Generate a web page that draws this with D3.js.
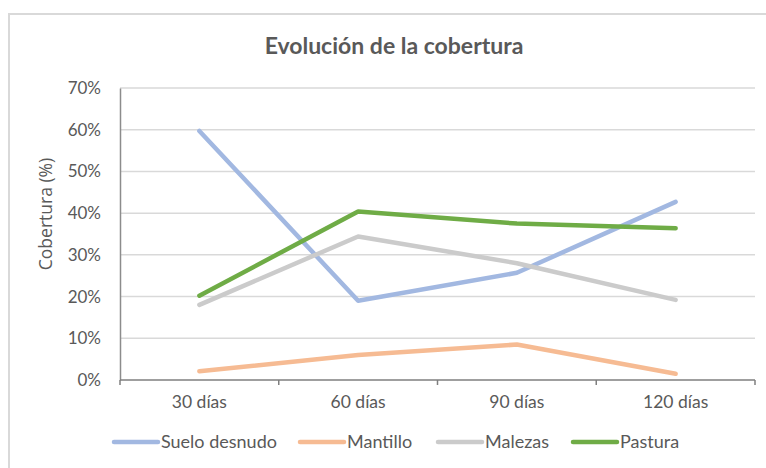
<!DOCTYPE html>
<html>
<head>
<meta charset="utf-8">
<script src="https://cdn.jsdelivr.net/npm/d3@7"></script>
<style>
  body { margin: 0; background: #fff; }
  text { font-family: Lato, "Open Sans", sans-serif; fill: #595959; }
</style>
</head>
<body>
<script>
// chart values
let categories = ["30 días", "60 días", "90 días", "120 días"];
let seriesNames = ["Suelo desnudo", "Mantillo", "Malezas", "Pastura"];
let sueloDesnudo = [0.597, 0.19, 0.257, 0.427];
let mantillo = [0.021, 0.06, 0.085, 0.015];
let malezas = [0.18, 0.344, 0.28, 0.192];
let pastura = [0.202, 0.404, 0.375, 0.364];
let yTicks = [0, 0.1, 0.2, 0.3, 0.4, 0.5, 0.6, 0.7];

let colors = ["#a2b8e1", "#f6bb93", "#cbcbcb", "#6fac46"];
let seriesValues = [sueloDesnudo, mantillo, malezas, pastura];

let width = 766, height = 468;
let plot = { left: 120, right: 755, top: 88, bottom: 380 };

let svg = d3.select("body").append("svg")
    .attr("width", width)
    .attr("height", height);

// outer chart border
svg.append("rect")
    .attr("x", 9).attr("y", 14)
    .attr("width", 780).attr("height", 480)
    .attr("fill", "none")
    .attr("stroke", "#d9d9d9")
    .attr("stroke-width", 2);

let x = d3.scaleBand()
    .domain(categories)
    .range([plot.left, plot.right]);

let y = d3.scaleLinear()
    .domain([0, 0.7])
    .range([plot.bottom, plot.top]);

// gridlines
svg.append("g")
    .selectAll("line")
    .data(yTicks.slice(1))
    .enter()
    .append("line")
    .attr("x1", plot.left).attr("x2", plot.right)
    .attr("y1", d => y(d)).attr("y2", d => y(d))
    .attr("stroke", "#d9d9d9")
    .attr("stroke-width", 1.5);

// y axis
let yAxis = svg.append("g")
    .attr("transform", "translate(" + plot.left + ",0)")
    .call(d3.axisLeft(y).tickValues(yTicks).tickFormat(d3.format(".0%")).tickSize(0).tickPadding(19));
yAxis.select(".domain").attr("stroke", "#8c8c8c").attr("stroke-width", 1.5);
yAxis.selectAll("text").attr("font-size", 17).attr("fill", "#595959").style("font-family", "Lato");

// x axis
let xAxis = svg.append("g")
    .attr("transform", "translate(0," + plot.bottom + ")")
    .call(d3.axisBottom(x).tickSize(0).tickPadding(16));
xAxis.select(".domain").remove();
xAxis.append("line")
    .attr("x1", plot.left).attr("x2", plot.right)
    .attr("stroke", "#7f7f7f").attr("stroke-width", 1.5);
xAxis.selectAll(".tickmark")
    .data(categories.map(c => x(c) + x.bandwidth()).concat([plot.left]))
    .enter()
    .append("line")
    .attr("x1", d => d).attr("x2", d => d)
    .attr("y1", 0).attr("y2", 5)
    .attr("stroke", "#7f7f7f").attr("stroke-width", 1.5);
xAxis.selectAll("text").attr("font-size", 17.5).attr("fill", "#595959").style("font-family", "Lato");

// lines
let line = d3.line()
    .x((d, i) => x(categories[i]) + x.bandwidth() / 2)
    .y(d => y(d));

svg.append("g")
    .selectAll("path")
    .data(seriesValues)
    .enter()
    .append("path")
    .attr("d", d => line(d))
    .attr("fill", "none")
    .attr("stroke", (d, i) => colors[i])
    .attr("stroke-width", 4.5)
    .attr("stroke-linecap", "round")
    .attr("stroke-linejoin", "round");

// title
svg.append("text")
    .attr("x", 394).attr("y", 54)
    .attr("text-anchor", "middle")
    .attr("font-size", 23)
    .attr("font-weight", "bold")
    .text("Evolución de la cobertura");

// y axis title
svg.append("text")
    .attr("transform", "translate(52,214) rotate(-90)")
    .attr("text-anchor", "middle")
    .attr("font-size", 17.5)
    .style("font-family", "'Open Sans'")
    .text("Cobertura (%)");

// legend
let legendX = [114, 300, 438, 573];
let legend = svg.append("g")
    .selectAll("g")
    .data(seriesNames)
    .enter()
    .append("g")
    .attr("transform", (d, i) => "translate(" + legendX[i] + ",442)");

legend.append("line")
    .attr("x1", 0).attr("x2", 44)
    .attr("stroke", (d, i) => colors[i])
    .attr("stroke-width", 4.5)
    .attr("stroke-linecap", "round");

legend.append("text")
    .attr("x", 47).attr("y", 6)
    .attr("font-size", 18)
    .text(d => d);
</script>
</body>
</html>
